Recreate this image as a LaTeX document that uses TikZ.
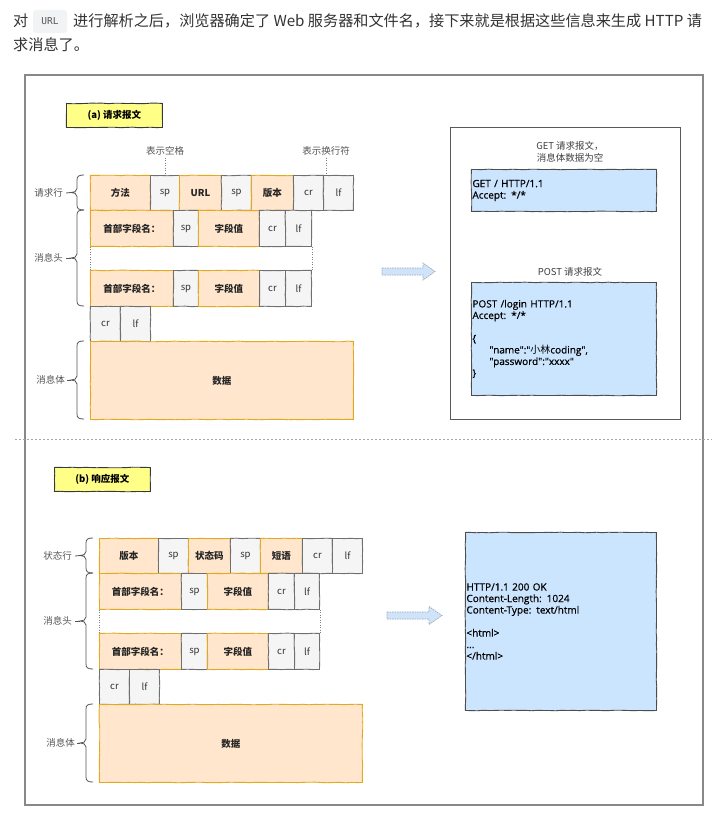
\documentclass[tikz,border=0pt]{standalone}
\usepackage{fontspec}
\setmainfont{Noto Sans CJK SC}
\setmonofont{DejaVu Sans Mono}
\newfontfamily\codefont[FakeBold=0.6]{Open Sans}
\newfontfamily\cjkfont{Noto Sans CJK SC}
\usetikzlibrary{decorations.pathmorphing}
\definecolor{ofill}{HTML}{FFE6CC}
\definecolor{oline}{HTML}{E2A923}
\definecolor{gfill}{HTML}{F5F5F5}
\definecolor{gline}{HTML}{707070}
\definecolor{bfill}{HTML}{CCE5FF}
\definecolor{bline}{HTML}{4D4D4D}
\definecolor{yfill}{HTML}{FFFF88}
\definecolor{yline}{HTML}{36393D}
\definecolor{framec}{HTML}{888888}
\definecolor{sidec}{HTML}{555555}
\definecolor{topc}{HTML}{333333}
\definecolor{chipc}{HTML}{F2F3F5}
\definecolor{arrf}{HTML}{CFE4FA}
\definecolor{arrl}{HTML}{9AA6B2}
\newcommand{\mybrace}[4]{% #1 top y, #2 bottom y, #3 right x, #4 name of tip
  \draw[bracest] (#3,#1) .. controls ({#3-5},#1) and ({#3-7},{#1+1}) .. ({#3-7},{#1+5})
    -- ({#3-7},{(#1+#2)/2-4}) .. controls ({#3-7},{(#1+#2)/2-1}) and ({#3-10},{(#1+#2)/2}) .. ({#3-13},{(#1+#2)/2})
    .. controls ({#3-10},{(#1+#2)/2}) and ({#3-7},{(#1+#2)/2+1}) .. ({#3-7},{(#1+#2)/2+4})
    -- ({#3-7},{#2-5}) .. controls ({#3-7},{#2-1}) and ({#3-5},#2) .. (#3,#2);
  \coordinate (#4) at ({#3-13},{(#1+#2)/2});
}
\begin{document}
\begin{tikzpicture}[x=1pt,y=-1pt,
  base/.style={draw, line width=0.9pt, inner sep=0pt, anchor=north west, font=\fontsize{9.5}{11}\selectfont},
  sk/.style={decorate, decoration={random steps, segment length=6pt, amplitude=0.3pt}},
  ob/.style={base, sk, fill=ofill, draw=oline, font=\bfseries\fontsize{9.5}{11}\selectfont, text=black!85},
  gb/.style={base, sk, fill=gfill, draw=gline, text=black!80},
  sz/.style 2 args={minimum width=#1pt, minimum height=#2pt},
  code/.style={base, sk, fill=bfill, draw=bline, align=left, inner xsep=1pt, font=\codefont\fontsize{10}{11.5}\selectfont, text=black},
  side/.style={inner sep=0pt, anchor=east, text=sidec, font=\fontsize{9.5}{11}\selectfont},
  lbl/.style={inner sep=0pt, text=sidec, font=\fontsize{9.5}{11.5}\selectfont},
  bracest/.style={draw=sidec, line width=0.8pt},
  dotline/.style={draw=gray, line width=0.7pt, dash pattern=on 1pt off 1.5pt},
  arrowst/.style={fill=arrf, draw=arrl, line width=0.7pt, dash pattern=on 1.5pt off 1pt},
  toptext/.style={inner sep=0pt, text=topc, font=\fontsize{15.15}{18}\selectfont},
]
\useasboundingbox (0,0) rectangle (719,821);
\fill[white] (0,0) rectangle (719,821);

% top paragraph
\node[toptext, anchor=base west] (t0) at (13,27) {对};
\node[fill=chipc, rounded corners=3pt, minimum width=34pt, minimum height=23pt, inner sep=0pt,
      text=sidec, font=\ttfamily\fontsize{9.5}{11}\selectfont] (chip) at (50,21.5) {URL};
\node[toptext, anchor=base west] (t1) at (73,27) {进行解析之后，浏览器确定了 Web 服务器和文件名，接下来就是根据这些信息来生成 HTTP 请};
\node[toptext, anchor=base west] (t2) at (13,51) {求消息了。};

% frame and separator
\draw[line width=2.5pt, draw=framec] (25,75) rectangle (703,805);
\draw[draw=gray!70, line width=1pt, dash pattern=on 2pt off 2pt] (15,439) -- (712,439);

% ===== (a) request =====
\node[base, sk, fill=yfill, draw=yline, sz={96}{24}, font=\bfseries\fontsize{9.5}{11}\selectfont] (ta) at (66,103) {(a) 请求报文};

\node[ob,sz={60}{35}] (r1a) at (90,175) {方法};
\node[gb,sz={29}{35}] (r1b) at (150,175) {sp};
\node[ob,sz={42}{35}] (r1c) at (179,175) {URL};
\node[gb,sz={30}{35}] (r1d) at (221,175) {sp};
\node[ob,sz={42}{35}] (r1e) at (251,175) {版本};
\node[gb,sz={30}{35}] (r1f) at (293,175) {cr};
\node[gb,sz={30}{35}] (r1g) at (323,175) {lf};

\node[lbl] (n1) at (165,151) {表示空格};
\node[lbl] (n2) at (326,151) {表示换行符};
\draw[dotline] ([yshift=-2pt]n1.south) -- (n1.south |- r1b.north);
\draw[dotline] ([yshift=-2pt]n2.south) -- (n2.south |- r1g.north);

\node[ob,sz={83}{36}] (h1a) at (90,210) {首部字段名：};
\node[gb,sz={25}{36}] (h1b) at (173,210) {sp};
\node[ob,sz={61}{36}] (h1c) at (198,210) {字段值};
\node[gb,sz={26}{36}] (h1d) at (259,210) {cr};
\node[gb,sz={26}{36}] (h1e) at (285,210) {lf};

\node[ob,sz={83}{36}] (h3a) at (90,270) {首部字段名：};
\node[gb,sz={25}{36}] (h3b) at (173,270) {sp};
\node[ob,sz={61}{36}] (h3c) at (198,270) {字段值};
\node[gb,sz={26}{36}] (h3d) at (259,270) {cr};
\node[gb,sz={26}{36}] (h3e) at (285,270) {lf};
\draw[dotline] (h1a.south west) -- (h3a.north west);
\draw[dotline] (h1e.south east) -- (h3e.north east);

\node[gb,sz={30}{35}] (c1) at (90,306) {cr};
\node[gb,sz={30}{35}] (c2) at (120,306) {lf};
\node[ob,sz={263}{78}] (d1) at (90,341) {数据};

\mybrace{175}{210}{84}{ta1}
\mybrace{210}{306}{84}{ta2}
\mybrace{341}{419}{84}{ta3}
\node[side] (s1) at (63,193) {请求行};
\node[side] (s2) at (63,258) {消息头};
\node[side] (s3) at (65,380) {消息体};
\draw[bracest] ([xshift=3pt]s1.east) -- (ta1);
\draw[bracest] ([xshift=3pt]s2.east) -- (ta2);
\draw[bracest] ([xshift=2pt]s3.east) -- (ta3);

\draw[arrowst] (382,268) -- (423,268) -- (423,263) -- (435,271.5) -- (423,280) -- (423,275) -- (382,275) -- cycle;

\node[base, draw=gray!70!black, line width=0.8pt, fill=white, sz={230}{292}] (pa) at (450,127) {};
\node[lbl, align=center, text=black!75] (gt) at (570,152) {GET 请求报文，\\消息体数据为空};
\node[code, sz={185}{42}, text width=183pt] (gb1) at (471,169) {GET / HTTP/1.1\\Accept: */*};
\node[lbl, text=black!75] (pt) at (570,272) {POST 请求报文};
\node[code, sz={185}{113}, text width=183pt] (pb1) at (471,282) {POST /login HTTP/1.1\\Accept: */*\\[11.5pt]\{\\\hspace*{17pt}"name":"{\cjkfont 小林}coding",\\\hspace*{17pt}"password":"xxxx"\\\}};

% ===== (b) response =====
\node[base, sk, fill=yfill, draw=yline, sz={96}{24}, font=\bfseries\fontsize{9.5}{11}\selectfont] (tb) at (54,467) {(b) 响应报文};

\node[ob,sz={59}{35}] (q1) at (99,538) {版本};
\node[gb,sz={30}{35}] (q2) at (158,538) {sp};
\node[ob,sz={42}{35}] (q3) at (188,538) {状态码};
\node[gb,sz={30}{35}] (q4) at (230,538) {sp};
\node[ob,sz={42}{35}] (q5) at (260,538) {短语};
\node[gb,sz={30}{35}] (q6) at (302,538) {cr};
\node[gb,sz={30}{35}] (q7) at (332,538) {lf};

\node[ob,sz={82}{36}] (k1a) at (99,573) {首部字段名：};
\node[gb,sz={26}{36}] (k1b) at (181,573) {sp};
\node[ob,sz={61}{36}] (k1c) at (207,573) {字段值};
\node[gb,sz={26}{36}] (k1d) at (268,573) {cr};
\node[gb,sz={25}{36}] (k1e) at (294,573) {lf};

\node[ob,sz={82}{36}] (k3a) at (99,633) {首部字段名：};
\node[gb,sz={26}{36}] (k3b) at (181,633) {sp};
\node[ob,sz={61}{36}] (k3c) at (207,633) {字段值};
\node[gb,sz={26}{36}] (k3d) at (268,633) {cr};
\node[gb,sz={25}{36}] (k3e) at (294,633) {lf};
\draw[dotline] (k1a.south west) -- (k3a.north west);
\draw[dotline] (k1e.south east) -- (k3e.north east);

\node[gb,sz={30}{35}] (e1) at (99,669) {cr};
\node[gb,sz={30}{35}] (e2) at (129,669) {lf};
\node[ob,sz={263}{78}] (d2) at (99,704) {数据};

\mybrace{538}{573}{93}{tb1}
\mybrace{573}{669}{93}{tb2}
\mybrace{704}{782}{93}{tb3}
\node[side] (u1) at (72,556) {状态行};
\node[side] (u2) at (72,621) {消息头};
\node[side] (u3) at (75,743) {消息体};
\draw[bracest] ([xshift=3pt]u1.east) -- (tb1);
\draw[bracest] ([xshift=3pt]u2.east) -- (tb2);
\draw[bracest] ([xshift=2pt]u3.east) -- (tb3);

\draw[arrowst] (387,612) -- (429,612) -- (429,606.5) -- (442,615.5) -- (429,624.5) -- (429,619) -- (387,619) -- cycle;

\node[code, sz={191}{178}, text width=189pt] (rb) at (465,532) {HTTP/1.1 200 OK\\Content-Length: 1024\\Content-Type: text/html\\[11.5pt]<html>\\...\\</html>};
\end{tikzpicture}
\end{document}
